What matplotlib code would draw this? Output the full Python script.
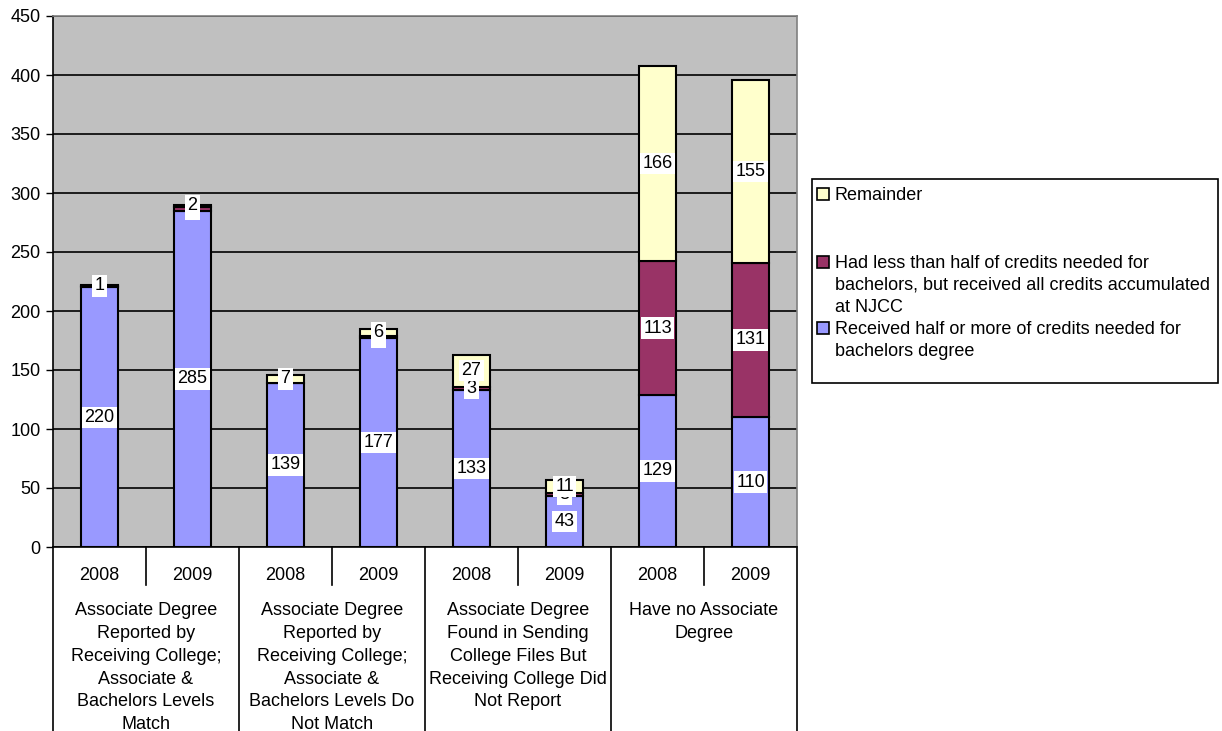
import matplotlib
matplotlib.use("Agg")
import matplotlib.pyplot as plt
import matplotlib.transforms as mtransforms
from matplotlib.patches import Rectangle
import numpy as np

plt.rcParams['font.family'] = ['Liberation Sans', 'DejaVu Sans']

years = ["2008", "2009", "2008", "2009", "2008", "2009", "2008", "2009"]
groups = [
    "Associate Degree\nReported by\nReceiving College;\nAssociate &\nBachelors Levels\nMatch",
    "Associate Degree\nReported by\nReceiving College;\nAssociate &\nBachelors Levels Do\nNot Match",
    "Associate Degree\nFound in Sending\nCollege Files But\nReceiving College Did\nNot Report",
    "Have no Associate\nDegree",
]
received_half = [220, 285, 139, 177, 133, 43, 129, 110]
less_than_half = [1, 3, 0, 2, 3, 3, 113, 131]
remainder = [1, 2, 7, 6, 27, 11, 166, 155]

series_names = [
    "Received half or more of credits needed for\nbachelors degree",
    "Had less than half of credits needed for\nbachelors, but received all credits accumulated\nat NJCC",
    "Remainder",
]
colors = ["#9999FF", "#993366", "#FFFFCC"]

W, H = 1222, 731
fig = plt.figure(figsize=(W / 100, H / 100), dpi=100)
fig.patch.set_facecolor("white")
ax = fig.add_axes([53 / W, (H - 547) / H, (797 - 53) / W, (547 - 16) / H])
ax.set_facecolor("#C0C0C0")

x = np.arange(len(years))
bw = 0.405
bottom = np.zeros(len(years))
data = [received_half, less_than_half, remainder]
for k, (vals, col) in enumerate(zip(data, colors)):
    vals = np.array(vals, dtype=float)
    ax.bar(x, vals, bw, bottom=bottom.copy(), color=col, edgecolor="black",
           linewidth=1.5, zorder=3)
    for xi, b, v in zip(x, bottom, vals):
        if v > 0:
            ax.text(xi, b + v / 2, f"{int(v)}", ha="center", va="center",
                    fontsize=13, zorder=5 + k,
                    bbox=dict(boxstyle="square,pad=0.12", fc="white", ec="none"))
    bottom = bottom + vals

ax.set_xlim(-0.5, 7.5)
ax.set_ylim(0, 450)
ax.set_yticks(np.arange(0, 451, 50))
ax.yaxis.grid(True, color="black", linewidth=1.2, zorder=0)
ax.set_axisbelow(True)
ax.tick_params(axis="y", direction="out", length=5, width=1, labelsize=13, pad=4)
ax.set_xticks([])
for s in ["top", "right"]:
    ax.spines[s].set_color("#808080")
    ax.spines[s].set_linewidth(1.2)
for s in ["left", "bottom"]:
    ax.spines[s].set_color("black")
    ax.spines[s].set_linewidth(1.2)

trans = mtransforms.blended_transform_factory(ax.transData, ax.transAxes)
ph = 547 - 16
# year labels
for xi, yr in zip(x, years):
    ax.text(xi, -29 / ph, yr, transform=trans, ha="center", va="center",
            fontsize=13)
# group labels
for gi, g in enumerate(groups):
    ax.text(2 * gi + 0.5, -55 / ph, g, transform=trans, ha="center", va="top",
            fontsize=13, linespacing=1.45)
# separators
for xb in [-0.5, 1.5, 3.5, 5.5, 7.5]:
    ax.plot([xb, xb], [0, -(H - 547) / ph], transform=trans, color="black",
            linewidth=1.2, clip_on=False)
for xb in [0.5, 2.5, 4.5, 6.5]:
    ax.plot([xb, xb], [0, -38 / ph], transform=trans, color="black",
            linewidth=1.2, clip_on=False)

# legend box (manual, to mimic spacing)
fig.patches.append(Rectangle((812 / W, (H - 383) / H), 406 / W, 204 / H,
                             transform=fig.transFigure, fc="white",
                             ec="black", lw=1.2))
leg_items = [(series_names[2], colors[2], 194),
             (series_names[1], colors[1], 262),
             (series_names[0], colors[0], 328)]
for label, col, yc in leg_items:
    fig.patches.append(Rectangle((817 / W, (H - yc - 6) / H), 12 / W, 12 / H,
                                 transform=fig.transFigure, fc=col,
                                 ec="black", lw=1.2))
    fig.text(835 / W, (H - yc + 7) / H, label, ha="left", va="top",
             fontsize=13, linespacing=1.38)

fig.savefig("out.png", dpi=100)
